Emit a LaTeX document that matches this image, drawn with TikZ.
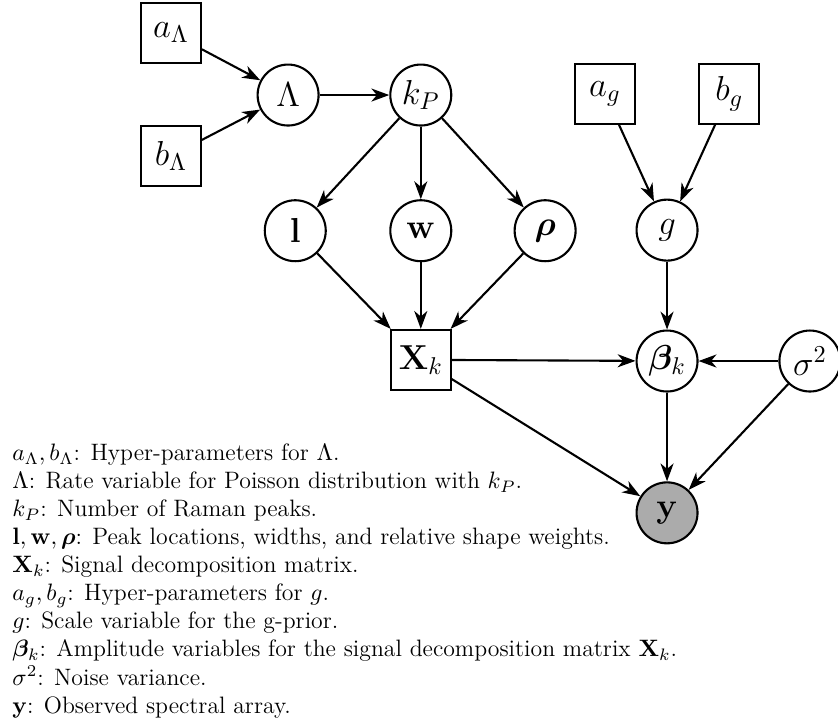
\RequirePackage{fix-cm}
\documentclass[tikz,border=0pt]{standalone}
\usepackage{amsmath}
\usepackage{bm}
\usetikzlibrary{arrows.meta}
\definecolor{obsgray}{gray}{0.67}
\tikzset{
    latent/.style={draw, circle, line width=1pt, minimum size=1.02cm, inner sep=0pt, font=\fontsize{16.5}{19}\selectfont},
    hyper/.style={draw, rectangle, line width=1pt, minimum size=1cm, inner sep=0pt, font=\fontsize{16.5}{19}\selectfont},
    observed/.style={latent, fill=obsgray},
    edge/.style={-{Stealth[length=8.5pt,width=6.2pt,inset=2.6pt]}, line width=1pt}
}
\begin{document}
\begin{tikzpicture}
            \useasboundingbox (0,0) rectangle (14.02,-12.03);

            % Hyper-parameters for Lambda
            \node[hyper] (aL) at (2.86,-0.55) {$a_\Lambda$};
            \node[hyper] (bL) at (2.86,-2.61) {$b_\Lambda$};

            % Rate and number of peaks
            \node[latent] (Lam) at (4.82,-1.59) {$\Lambda$};
            \node[latent] (kP) at (7.04,-1.59) {$k_P$};

            % Edges
            \draw[edge] (aL) -- (Lam);
            \draw[edge] (bL) -- (Lam);
            \draw[edge] (Lam) -- (kP);

            % Peak parameters
            \node[latent] (l) at (4.94,-3.86) {$\mathbf{l}$};
            \node[latent] (w) at (7.04,-3.86) {$\mathbf{w}$};
            \node[latent] (rho) at (9.12,-3.86) {$\bm{\rho}$};

            % Edges
            \draw[edge] (kP) -- (l);
            \draw[edge] (kP) -- (w);
            \draw[edge] (kP) -- (rho);

            % g-prior nodes
            \node[hyper] (ag) at (10.12,-1.57) {$a_g$};
            \node[hyper] (bg) at (12.20,-1.57) {$b_g$};
            \node[latent] (g) at (11.16,-3.85) {$g$};

            % Edges
            \draw[edge] (ag) -- (g);
            \draw[edge] (bg) -- (g);

            % Third stage nodes
            \node[hyper] (Xk) at (7.04,-6.02) {$\mathbf{X}_k$};
            \node[latent] (beta) at (11.16,-6.04) {$\bm{\beta}_k$};
            \node[latent] (sigma) at (13.55,-6.04) {$\sigma^2$};
            \node[observed] (y) at (11.16,-8.58) {$\mathbf{y}$};

            % Edges
            \draw[edge] (l) -- (Xk);
            \draw[edge] (w) -- (Xk);
            \draw[edge] (rho) -- (Xk);
            \draw[edge] (g) -- (beta);
            \draw[edge] (Xk) -- (beta);
            \draw[edge] (sigma) -- (beta);
            \draw[edge] (Xk) -- (y);
            \draw[edge] (beta) -- (y);
            \draw[edge] (sigma) -- (y);

            % Legend
            \node[anchor=north west, align=left, inner sep=0pt, font=\fontsize{11.3}{13.35}\selectfont] (legend) at (0.2,-7.42) {%
                $a_\Lambda, b_\Lambda$: Hyper-parameters for $\Lambda$.\\
                $\Lambda$: Rate variable for Poisson distribution with $k_P$.\\
                $k_P$: Number of Raman peaks.\\
                $\mathbf{l}, \mathbf{w}, \bm{\rho}$: Peak locations, widths, and relative shape weights.\\
                $\mathbf{X}_k$: Signal decomposition matrix.\\
                $a_g, b_g$: Hyper-parameters for $g$.\\
                $g$: Scale variable for the g-prior.\\
                $\bm{\beta}_k$: Amplitude variables for the signal decomposition matrix $\mathbf{X}_k$.\\
                $\sigma^2$: Noise variance.\\
                $\mathbf{y}$: Observed spectral array.};

        \end{tikzpicture}
\end{document}
